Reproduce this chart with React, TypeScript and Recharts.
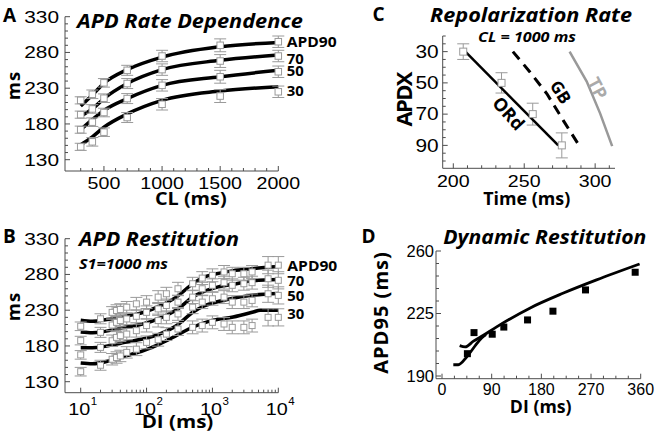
import React from 'react';
import { ComposedChart, Line, Scatter, XAxis, YAxis, ErrorBar } from 'recharts';

// ---------- Panel A : APD rate dependence ----------
const A_CL = [300, 400, 500, 700, 1000, 1500, 2000];
const A_MODEL_90 = [205, 220.5, 237, 256, 273.5, 288, 294];
const A_MODEL_70 = [191, 201, 215.5, 236.5, 256, 269, 276.5];
const A_MODEL_50 = [172, 186, 199, 215.5, 234, 246, 255];
const A_MODEL_30 = [151, 162, 175.5, 194, 213, 226, 232];
const A_EXP_90 = [213, 221.5, 237.5, 255, 275, 290, 295];
const A_EXP_70 = [193, 201, 216, 236.5, 256, 268, 275];
const A_EXP_50 = [172, 182.5, 196, 215.5, 234, 246, 253];
const A_EXP_30 = [148, 155, 168.5, 189, 207.5, 219, 225];
const A_SD = [5, 6, 6, 7, 8, 9, 8];
const A_X_TICKS = [300, 400, 500, 600, 700, 800, 900, 1000, 1100, 1200, 1300, 1400, 1500, 1600, 1700, 1800, 1900, 2000];
const A_X_LABELS = [500, 1000, 1500, 2000];
const AB_Y_TICKS = [130, 140, 150, 160, 170, 180, 190, 200, 210, 220, 230, 240, 250, 260, 270, 280, 290, 300, 310, 320, 330];
const AB_Y_LABELS = [130, 180, 230, 280, 330];

// ---------- Panel B : APD restitution ----------
const B_DI = [10, 20, 30, 35, 40, 50, 70, 100, 150, 200, 300, 500, 700, 1000, 1500, 2000, 3000, 4000, 7000, 10000];
const B_EXP_90 = [207.5, 218, 227, 229.6, 231, 234.2, 238.9, 241.3, 248.3, 253, 260, 267, 274.9, 278.8, 283.5, 281, 281, 283.5, 293, 293];
const B_EXP_70 = [187.5, 199, 209.3, 213, 215.5, 217.8, 221.5, 227, 231.8, 236.6, 241.3, 248.3, 260, 264.8, 268.5, 264.8, 267, 268.5, 274, 271.8];
const B_EXP_50 = [167.5, 178, 187.3, 192, 194.4, 196.6, 201.4, 208.5, 215.5, 220, 224.8, 234.2, 241.3, 246, 248.3, 241.3, 241.3, 243.7, 253, 250.7];
const B_EXP_30 = [144, 153, 161.4, 163.8, 166, 171, 175.5, 185, 188.7, 196.6, 203.7, 206, 208.5, 213, 210.7, 206, 206, 208.5, 220, 220];
const B_SD = [6, 7, 8, 8, 8, 8, 9, 9, 9, 9, 9, 9, 9, 9, 9, 9, 9, 9, 12, 12];
const B_MODEL_DI_90 = [10, 15, 25, 50, 90, 160, 290, 510, 730, 1150, 2000, 4000, 10000];
const B_MODEL_90 = [216, 214.5, 217, 222, 227, 236, 249, 267.5, 276, 281, 285, 288, 291];
const B_MODEL_DI = [10, 15, 50, 90, 160, 290, 510, 730, 1150, 2000, 4000, 10000];
const B_MODEL_70 = [199.5, 198.5, 206.5, 211, 219, 231, 248.7, 256, 262, 266, 271, 273];
const B_MODEL_50 = [177.5, 177.5, 185.5, 190, 197, 209, 227.5, 235.5, 241.5, 246.5, 251, 253.5];
const B_MODEL_DI_30 = [10, 15, 28, 50, 90, 160, 290, 510, 935, 2070, 4170, 5300, 10000];
const B_MODEL_30 = [156, 155, 159.5, 166.5, 173.5, 183, 195, 206.5, 215, 220.5, 227.5, 230, 230];
const B_X_TICKS = [10, 20, 30, 40, 50, 60, 70, 80, 90, 100, 200, 300, 400, 500, 600, 700, 800, 900, 1000, 2000, 3000, 4000, 5000, 6000, 7000, 8000, 9000, 10000];
const B_X_LABELS = [10, 100, 1000, 10000];

// ---------- Panel C : repolarization rate ----------
const C_ORD_T = [208.5, 274];
const C_ORD_APD = [30, 90];
const C_GB_T = [242, 254, 266, 277.5, 289];
const C_GB_APD = [30, 43, 57, 74, 90.5];
const C_TP_T = [282, 294, 303.5, 312];
const C_TP_APD = [30, 49, 69.5, 90.5];
const C_EXP_T = [207, 234, 256, 276.5];
const C_EXP_APD = [30, 50, 70, 90];
const C_SD = [5, 6.5, 7, 8];
const C_X_TICKS = [200, 210, 220, 230, 240, 250, 260, 270, 280, 290, 300, 310];
const C_X_LABELS = [200, 250, 300];
const C_Y_TICKS = [20, 25, 30, 35, 40, 45, 50, 55, 60, 65, 70, 75, 80, 85, 90, 95, 100];
const C_Y_LABELS = [30, 50, 70, 90];

// ---------- Panel D : dynamic restitution ----------
const D_EXP_DI = [46, 58, 91, 112, 155, 201, 260, 350];
const D_EXP_APD = [202.5, 214.3, 213.4, 217.4, 221.4, 226.3, 238.2, 248.1];
const D_L1_DI = [32, 42, 57, 75, 99, 159, 219, 280, 358];
const D_L1_APD = [207, 206.3, 209.5, 212.8, 217.5, 228, 236.3, 243.8, 252.7];
const D_L2_DI = [20.5, 29.5, 44.6, 59.7, 71.8, 79.6];
const D_L2_APD = [196.3, 196.3, 200.6, 206.8, 211.3, 213.2];
const D_X_TICKS = [0, 22.5, 45, 67.5, 90, 112.5, 135, 157.5, 180, 202.5, 225, 247.5, 270, 292.5, 315, 337.5, 360];
const D_X_LABELS = [0, 90, 180, 270, 360];
const D_Y_TICKS = [190, 197, 204, 211, 218, 225, 232, 239, 246, 253, 260];
const D_Y_LABELS = [190, 225, 260];

// ---------- styles ----------
const SANS = '"Open Sans", "Noto Sans", sans-serif';
const ARIAL = '"Liberation Sans", Arial, sans-serif';
const AX = '#4d4d4d';
const GRAY = '#9a9a9a';

type Pt = { x: number; y: number; e: number };
const pts = (xs: number[], ys: number[], es?: number[]): Pt[] =>
  xs.map((x, i) => ({ x, y: ys[i], e: es ? es[i] : 0 }));

function yTick(labels: number[], gap: number, size: number, digitW: number) {
  return (p: any) => {
    const v = p.payload.value;
    const maj = labels.includes(v);
    const s = String(v);
    return (
      <g>
        <line x1={p.x} x2={p.x + (maj ? 5 : 3)} y1={p.y} y2={p.y} stroke={AX} strokeWidth={1} />
        {maj ? (
          <text x={p.x - gap} y={p.y} dy="0.36em" textAnchor="end" fontFamily={ARIAL} fontSize={size} fill="#000"
            textLength={digitW > 0 ? s.length * digitW : undefined} lengthAdjust="spacingAndGlyphs">{s}</text>
        ) : null}
      </g>
    );
  };
}

function xTick(labels: number[], off: number, size: number, digitW: number) {
  return (p: any) => {
    const v = p.payload.value;
    const maj = labels.includes(v);
    const s = String(v);
    return (
      <g>
        <line x1={p.x} x2={p.x} y1={p.y} y2={p.y - (maj ? 5 : 3)} stroke={AX} strokeWidth={1} />
        {maj ? (
          <text x={p.x} y={p.y + off} textAnchor="middle" fontFamily={ARIAL} fontSize={size} fill="#000"
            textLength={digitW > 0 ? s.length * digitW : undefined} lengthAdjust="spacingAndGlyphs">{s}</text>
        ) : null}
      </g>
    );
  };
}

function logTick(labels: number[]) {
  return (p: any) => {
    const v = p.payload.value;
    const maj = labels.includes(v);
    const exp = String(Math.round(Math.log10(v)));
    return (
      <g>
        <line x1={p.x} x2={p.x} y1={p.y} y2={p.y - (maj ? 5 : 3)} stroke={AX} strokeWidth={1} />
        {maj ? (
          <g>
            <text x={p.x + 9.5} y={p.y + 22} textAnchor="end" fontFamily={ARIAL} fontSize={16.5} fill="#000"
              textLength={22} lengthAdjust="spacingAndGlyphs">10</text>
            <text x={p.x + 10} y={p.y + 12.3} textAnchor="start" fontFamily={ARIAL} fontSize={11.5} fill="#000">{exp}</text>
          </g>
        ) : null}
      </g>
    );
  };
}

const openSquare = (size: number) => (p: any) =>
  <rect x={p.cx - size / 2} y={p.cy - size / 2} width={size} height={size} fill="#fff" stroke={GRAY} strokeWidth={1} />;
const filledSquare = (size: number) => (p: any) =>
  <rect x={p.cx - size / 2} y={p.cy - size / 2} width={size} height={size} fill="#000" stroke="none" />;

const axisCommon = {
  tickSize: 0,
  tickMargin: 0,
  tickLine: false,
  interval: 0 as const,
  axisLine: { stroke: AX, strokeWidth: 1 },
};

function PanelA() {
  const models = [A_MODEL_90, A_MODEL_70, A_MODEL_50, A_MODEL_30];
  const exps = [A_EXP_90, A_EXP_70, A_EXP_50, A_EXP_30];
  return (
    <div style={{ position: 'absolute', left: 0, top: 0 }}>
      <ComposedChart width={330} height={222} margin={{ top: 16.7, right: 51.7, bottom: 0, left: 0 }}>
        <XAxis type="number" dataKey="x" domain={[300, 2000]} ticks={A_X_TICKS} padding={{ left: 15.7, right: 0 }}
          height={51} {...axisCommon} tick={xTick(A_X_LABELS, 17.8, 16.5, 10.9)} />
        <YAxis type="number" dataKey="y" domain={[130, 330]} ticks={AB_Y_TICKS} padding={{ top: 0, bottom: 11.3 }}
          width={65} {...axisCommon} tick={yTick(AB_Y_LABELS, 6, 16.5, 11.6)} />
        {models.map((m, i) => (
          <Line key={'am' + i} data={pts(A_CL, m)} dataKey="y" type="monotone" stroke="#000" strokeWidth={3.5}
            dot={false} activeDot={false} isAnimationActive={false} />
        ))}
        {exps.map((e, i) => (
          <Scatter key={'ae' + i} data={pts(A_CL, e, A_SD)} dataKey="y" shape={openSquare(6.5)} isAnimationActive={false}>
            <ErrorBar dataKey="e" direction="y" width={6} stroke={GRAY} strokeWidth={1} />
          </Scatter>
        ))}
      </ComposedChart>
    </div>
  );
}

function PanelB() {
  const models = [
    pts(B_MODEL_DI_90, B_MODEL_90),
    pts(B_MODEL_DI, B_MODEL_70),
    pts(B_MODEL_DI, B_MODEL_50),
    pts(B_MODEL_DI_30, B_MODEL_30),
  ];
  const exps = [B_EXP_90, B_EXP_70, B_EXP_50, B_EXP_30];
  return (
    <div style={{ position: 'absolute', left: 0, top: 222 }}>
      <ComposedChart width={330} height={222} margin={{ top: 16.7, right: 51.7, bottom: 0, left: 0 }}>
        <XAxis type="number" dataKey="x" scale="log" domain={[10, 10000]} ticks={B_X_TICKS} padding={{ left: 15.7, right: 0 }}
          height={51.3} {...axisCommon} tick={logTick(B_X_LABELS)} />
        <YAxis type="number" dataKey="y" domain={[130, 330]} ticks={AB_Y_TICKS} padding={{ top: 0, bottom: 11 }}
          width={65} {...axisCommon} tick={yTick(AB_Y_LABELS, 6, 16.5, 11.6)} />
        {models.map((m, i) => (
          <Line key={'bm' + i} data={m} dataKey="y" type="monotone" stroke="#000" strokeWidth={3.5}
            dot={false} activeDot={false} isAnimationActive={false} />
        ))}
        {exps.map((e, i) => (
          <Scatter key={'be' + i} data={pts(B_DI, e, B_SD)} dataKey="y" shape={openSquare(6)} isAnimationActive={false}>
            <ErrorBar dataKey="e" direction="y" width={6} stroke={GRAY} strokeWidth={1} />
          </Scatter>
        ))}
      </ComposedChart>
    </div>
  );
}

function PanelC() {
  return (
    <div style={{ position: 'absolute', left: 330, top: 0 }}>
      <ComposedChart width={328} height={222} margin={{ top: 36, right: 43, bottom: 0, left: 0 }}>
        <XAxis type="number" dataKey="x" domain={[200, 314]} ticks={C_X_TICKS} padding={{ left: 10.6, right: 0 }}
          height={53.7} {...axisCommon} tick={xTick(C_X_LABELS, 19, 17, 10.9)} />
        <YAxis type="number" dataKey="y" domain={[20, 100]} reversed ticks={C_Y_TICKS} padding={{ top: 0, bottom: 7.3 }}
          width={112.7} {...axisCommon} tick={yTick(C_Y_LABELS, 4, 17.5, 11.6)} />
        <Line data={pts(C_TP_T, C_TP_APD)} dataKey="y" type="linear" stroke="#999" strokeWidth={2.5}
          dot={false} activeDot={false} isAnimationActive={false} />
        <Line data={pts(C_GB_T, C_GB_APD)} dataKey="y" type="linear" stroke="#000" strokeWidth={3} strokeDasharray="10 7"
          dot={false} activeDot={false} isAnimationActive={false} />
        <Scatter data={pts(C_EXP_T, C_EXP_APD, C_SD)} dataKey="y" shape={openSquare(7)} isAnimationActive={false}>
          <ErrorBar dataKey="e" direction="y" width={6} stroke={GRAY} strokeWidth={1} />
        </Scatter>
        <Line data={pts(C_ORD_T, C_ORD_APD)} dataKey="y" type="linear" stroke="#000" strokeWidth={2.5}
          dot={false} activeDot={false} isAnimationActive={false} />
      </ComposedChart>
    </div>
  );
}

function PanelD() {
  return (
    <div style={{ position: 'absolute', left: 330, top: 222 }}>
      <ComposedChart width={328} height={222} margin={{ top: 29, right: 17.3, bottom: 0, left: 0 }}>
        <XAxis type="number" dataKey="x" domain={[0, 360]} ticks={D_X_TICKS} padding={{ left: 6, right: 0 }}
          height={65.3} {...axisCommon} tick={xTick(D_X_LABELS, 16.2, 16, 0)} />
        <YAxis type="number" dataKey="y" domain={[190, 260]} ticks={D_Y_TICKS} padding={{ top: 0, bottom: 2.7 }}
          width={106} {...axisCommon} tick={yTick(D_Y_LABELS, 2, 16.5, 0)} />
        <Line data={pts(D_L2_DI, D_L2_APD)} dataKey="y" type="monotone" stroke="#000" strokeWidth={2.8}
          dot={false} activeDot={false} isAnimationActive={false} />
        <Line data={pts(D_L1_DI, D_L1_APD)} dataKey="y" type="monotone" stroke="#000" strokeWidth={2.8}
          dot={false} activeDot={false} isAnimationActive={false} />
        <Scatter data={pts(D_EXP_DI, D_EXP_APD)} dataKey="y" shape={filledSquare(7)} isAnimationActive={false} />
      </ComposedChart>
    </div>
  );
}

type TxtProps = {
  x: number; y: number; s: number; it?: boolean; w?: number; anchor?: 'start' | 'middle' | 'end';
  rot?: number; fill?: string; central?: boolean; adjust?: 'spacing' | 'spacingAndGlyphs'; children: React.ReactNode;
};
function Txt({ x, y, s, it, w, anchor = 'start', rot, fill = '#000', central, adjust = 'spacingAndGlyphs', children }: TxtProps) {
  return (
    <text x={x} y={y} fontSize={s} fontFamily={SANS} fontWeight={700} fontStyle={it ? 'italic' : 'normal'}
      textAnchor={anchor} fill={fill} dominantBaseline={central ? 'central' : undefined}
      transform={rot ? `rotate(${rot} ${x} ${y})` : undefined}
      textLength={w} lengthAdjust={w ? adjust : undefined}>{children}</text>
  );
}

function Overlay() {
  return (
    <svg width={658} height={444} style={{ position: 'absolute', left: 0, top: 0, pointerEvents: 'none' }}>
      {/* panel letters */}
      <Txt x={3} y={21.5} s={19}>A</Txt>
      <Txt x={3} y={242.5} s={19}>B</Txt>
      <Txt x={372.5} y={20.5} s={19}>C</Txt>
      <Txt x={361.5} y={242.5} s={19}>D</Txt>
      {/* titles */}
      <Txt x={77} y={27.5} s={19} it w={226}>APD Rate Dependence</Txt>
      <Txt x={79} y={245.5} s={19} it w={160}>APD Restitution</Txt>
      <Txt x={430} y={22.3} s={19} it w={202}>Repolarization Rate</Txt>
      <Txt x={478} y={41.7} s={14} it w={98}>CL = 1000 ms</Txt>
      <Txt x={79} y={269.3} s={14} it w={89}>S1=1000 ms</Txt>
      <Txt x={443.3} y={243.7} s={19} it w={203}>Dynamic Restitution</Txt>
      {/* axis titles */}
      <Txt x={190.8} y={205} s={18} anchor="middle" w={71.7}>CL (ms)</Txt>
      <Txt x={177.5} y={427.5} s={18} anchor="middle" w={71.7}>DI (ms)</Txt>
      <Txt x={526.7} y={204.5} s={18} anchor="middle" w={87}>Time (ms)</Txt>
      <Txt x={540.7} y={412.5} s={18} anchor="middle" w={61.7}>DI (ms)</Txt>
      <Txt x={20} y={86} s={18.5} anchor="middle" rot={-90} w={28.3} adjust="spacing">ms</Txt>
      <Txt x={20} y={307} s={18.5} anchor="middle" rot={-90} w={28.3} adjust="spacing">ms</Txt>
      <Txt x={411.7} y={99} s={22} anchor="middle" rot={-90} w={55} adjust="spacing">APDX</Txt>
      <Txt x={388} y={313} s={20} anchor="middle" rot={-90} w={121.7} adjust="spacing">APD95 (ms)</Txt>
      {/* series labels A */}
      <Txt x={286.7} y={47.3} s={14} w={50}>APD90</Txt>
      <Txt x={286.7} y={64} s={14} w={17}>70</Txt>
      <Txt x={286.7} y={75.5} s={14} w={17}>50</Txt>
      <Txt x={286.7} y={95.7} s={14} w={17}>30</Txt>
      {/* series labels B */}
      <Txt x={287.3} y={271.3} s={14} w={50}>APD90</Txt>
      <Txt x={287.3} y={286} s={14} w={17}>70</Txt>
      <Txt x={287.3} y={301} s={14} w={17}>50</Txt>
      <Txt x={287.3} y={319.3} s={14} w={17}>30</Txt>
      {/* model labels C */}
      <Txt x={509} y={113} s={18} anchor="middle" central rot={48}>ORd</Txt>
      <Txt x={561} y={92} s={17} anchor="middle" central rot={58}>GB</Txt>
      <Txt x={598} y={88} s={18} anchor="middle" central rot={62} fill="#aaa">TP</Txt>
    </svg>
  );
}

export default function App() {
  return (
    <div style={{ position: 'absolute', left: 0, top: 0, width: 658, height: 444, background: '#fff', overflow: 'hidden' }}>
      <PanelA />
      <PanelB />
      <PanelC />
      <PanelD />
      <Overlay />
    </div>
  );
}
